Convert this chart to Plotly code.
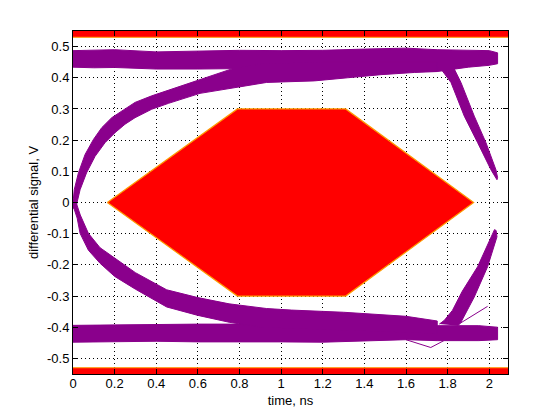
import plotly.graph_objects as go

PURPLE = "#8a008c"
RED = "#ff0000"
EDGE = "#ff9900"

# ---- axis ticks ----
x_tick_vals = [0, 0.2, 0.4, 0.6, 0.8, 1.0, 1.2, 1.4, 1.6, 1.8, 2.0]
x_tick_text = ["0", "0.2", "0.4", "0.6", "0.8", "1", "1.2", "1.4", "1.6", "1.8", "2"]
y_tick_vals = [-0.5, -0.4, -0.3, -0.2, -0.1, 0, 0.1, 0.2, 0.3, 0.4, 0.5]
y_tick_text = ["-0.5", "-0.4", "-0.3", "-0.2", "-0.1", "0", "0.1", "0.2", "0.3", "0.4", "0.5"]

# ---- upper "1" level band ----
top_t = [0.0, 0.1, 0.2, 0.4, 0.6, 0.8, 1.0, 1.2, 1.4, 1.6, 1.75, 1.9, 2.0, 2.04]
top_hi = [0.487, 0.488, 0.490, 0.483, 0.485, 0.488, 0.487, 0.488, 0.492, 0.495, 0.490, 0.488, 0.487, 0.480]
top_lo = [0.434, 0.432, 0.433, 0.428, 0.428, 0.428, 0.430, 0.432, 0.430, 0.425, 0.420, 0.434, 0.440, 0.445]

# ---- lower "0" level band ----
bot_t = [0.0, 0.2, 0.4, 0.6, 0.8, 1.0, 1.2, 1.4, 1.6, 1.75, 1.85, 1.95, 2.04]
bot_hi = [-0.394, -0.392, -0.390, -0.390, -0.390, -0.390, -0.385, -0.385, -0.390, -0.395, -0.395, -0.395, -0.400]
bot_lo = [-0.448, -0.447, -0.445, -0.447, -0.448, -0.447, -0.448, -0.445, -0.440, -0.443, -0.443, -0.443, -0.440]

# ---- rising transition (left, from crossing to "1") ----
rise_up_t = [0.0, 0.006, 0.026, 0.058, 0.098, 0.138, 0.186, 0.234, 0.298, 0.378, 0.459, 0.61, 0.77, 0.9, 1.2, 1.75]
rise_up_v = [0.0, 0.041, 0.095, 0.154, 0.202, 0.240, 0.272, 0.294, 0.321, 0.342, 0.360, 0.395, 0.430, 0.445, 0.450, 0.450]
rise_lo_t = [0.0, 0.017, 0.034, 0.065, 0.106, 0.154, 0.202, 0.250, 0.298, 0.378, 0.459, 0.61, 0.77, 0.93, 1.16, 1.32, 1.48, 1.64, 1.75]
rise_lo_v = [-0.02, -0.007, 0.041, 0.095, 0.148, 0.192, 0.224, 0.251, 0.272, 0.299, 0.318, 0.350, 0.368, 0.385, 0.390, 0.400, 0.410, 0.417, 0.420]

# ---- falling transition (left, from crossing to "0") ----
fall_up_t = [0.0, 0.015, 0.035, 0.074, 0.13, 0.2, 0.3, 0.45, 0.6, 0.75, 0.93, 1.05, 1.3, 1.6, 1.75]
fall_up_v = [0.01, 0.0, -0.04, -0.099, -0.145, -0.178, -0.225, -0.280, -0.305, -0.325, -0.340, -0.345, -0.352, -0.365, -0.380]
fall_lo_t = [0.0, 0.02, 0.034, 0.074, 0.13, 0.2, 0.3, 0.45, 0.6, 0.75, 0.9, 1.75]
fall_lo_v = [-0.01, -0.05, -0.099, -0.153, -0.195, -0.237, -0.278, -0.335, -0.362, -0.384, -0.400, -0.420]

# ---- falling transition (right) ----
rfall_t = [1.74, 1.768, 1.816, 1.88, 1.944, 2.008, 2.037, 2.04, 2.032, 1.984, 1.928, 1.864, 1.832, 1.82]
rfall_v = [0.44, 0.428, 0.385, 0.277, 0.192, 0.105, 0.073, 0.08, 0.105, 0.192, 0.277, 0.385, 0.428, 0.44]

# ---- rising transition (right) ----
rrise_t = [1.76, 1.784, 1.823, 1.87, 1.944, 2.016, 2.025, 2.033, 2.037, 1.992, 1.928, 1.864, 1.85]
rrise_v = [-0.39, -0.378, -0.346, -0.285, -0.206, -0.099, -0.087, -0.09, -0.11, -0.206, -0.303, -0.384, -0.395]

# ---- stray single traces ----
stray1_t = [1.60, 1.64, 1.719, 1.782]
stray1_v = [-0.440, -0.448, -0.465, -0.443]
stray2_t = [1.856, 1.992]
stray2_v = [-0.389, -0.333]

# ---- eye mask ----
hex_t = [0.165, 0.79, 1.31, 1.925, 1.31, 0.79, 0.165]
hex_v = [0.0, 0.30, 0.30, 0.0, -0.30, -0.30, 0.0]
bar_t = [-0.1, 2.3, 2.3, -0.1, -0.1]
top_bar_v = [0.53, 0.53, 0.60, 0.60, 0.53]
bot_bar_v = [-0.53, -0.53, -0.60, -0.60, -0.53]

fig = go.Figure()


def band(t, hi, lo):
    xs = list(t) + list(t)[::-1]
    ys = list(hi) + list(lo)[::-1]
    fig.add_trace(go.Scatter(x=xs, y=ys, mode="lines", fill="toself", fillcolor=PURPLE,
                             line=dict(color=PURPLE, width=1), hoverinfo="skip", showlegend=False))


def poly(xs, ys):
    fig.add_trace(go.Scatter(x=xs, y=ys, mode="lines", fill="toself", fillcolor=PURPLE,
                             line=dict(color=PURPLE, width=1), hoverinfo="skip", showlegend=False))


band(top_t, top_hi, top_lo)
band(bot_t, bot_hi, bot_lo)
poly(rise_up_t + rise_lo_t[::-1], rise_up_v + rise_lo_v[::-1])
poly(fall_up_t + fall_lo_t[::-1], fall_up_v + fall_lo_v[::-1])
poly(rfall_t, rfall_v)
poly(rrise_t, rrise_v)
for st, sv in [(stray1_t, stray1_v), (stray2_t, stray2_v)]:
    fig.add_trace(go.Scatter(x=st, y=sv, mode="lines", line=dict(color=PURPLE, width=1),
                             hoverinfo="skip", showlegend=False))

for xs, ys in [(hex_t, hex_v), (bar_t, top_bar_v), (bar_t, bot_bar_v)]:
    fig.add_trace(go.Scatter(x=xs, y=ys, mode="lines", fill="toself", fillcolor=RED,
                             line=dict(color=EDGE, width=1.2), hoverinfo="skip", showlegend=False))

FONT = dict(family="Liberation Sans, Arial", size=13, color="black")
axis_common = dict(
    showline=True, linecolor="black", linewidth=1, mirror="allticks",
    ticks="inside", ticklen=5, tickcolor="black",
    showgrid=True, gridcolor="black", gridwidth=1, griddash="1px,3px",
    zeroline=False, tickfont=FONT,
)

fig.update_xaxes(range=[0, 2.09], tickvals=x_tick_vals, ticktext=x_tick_text,
                 ticklabelstandoff=-3,
                 title=dict(text="time, ns", font=FONT, standoff=6),
                 **axis_common)
fig.update_yaxes(range=[-0.55, 0.55], tickvals=y_tick_vals, ticktext=y_tick_text,
                 title=dict(text="differential signal, V", font=FONT, standoff=5),
                 **axis_common)

# the page body adds an 8px margin, so the figure is 8px smaller and shifted
fig.update_layout(
    width=552, height=412,
    margin=dict(l=65, r=52, t=23, b=46, autoexpand=False),
    paper_bgcolor="white", plot_bgcolor="white",
    showlegend=False,
)

fig.write_html("out.html")
